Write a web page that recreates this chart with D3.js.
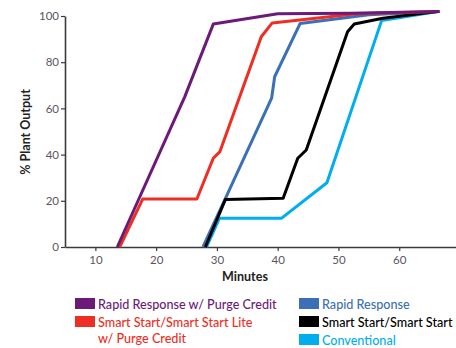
<!DOCTYPE html>
<html><head><meta charset="utf-8">
<script src="https://cdn.jsdelivr.net/npm/d3@7"></script>
<style>body{margin:0;background:#fff;}svg{display:block;}</style>
</head><body>
<script>
const seriesNames = ["Conventional","Rapid Response","Smart Start/Smart Start","Smart Start/Smart Start Lite w/ Purge Credit","Rapid Response w/ Purge Credit"];
const seriesColors = ["#00aeef","#3b6fb6","#000000","#ee2e24","#6b1a78"];
const conventional = [[28.3,0],[30.4,12.4],[40.6,12.4],[48.1,27.8],[57.1,98],[66.6,102]];
const rapidResponse = [[27.7,0],[31.8,23.3],[39.0,64.4],[39.5,73.7],[43.7,96.8],[55,100.5],[66.6,102]];
const smartStart = [[28.1,0],[31.4,20.6],[40.9,21.1],[43.3,38.4],[44.7,42],[51.5,93.2],[52.6,96.5],[57.3,99],[66.6,102]];
const smartStartPurge = [[14.0,0],[17.8,20.8],[26.7,20.8],[29.4,38.4],[30.5,41.3],[37.3,91],[39.1,97],[53,101],[66.6,102]];
const rapidPurge = [[13.6,0],[24.7,65],[29.4,96.5],[40,101],[52,101.2],[66.6,102]];
const xTicks = [10,20,30,40,50,60];
const yTicks = [0,20,40,60,80,100];

const W=456,H=348;
const svg=d3.select("body").append("svg").attr("width",W).attr("height",H);
const x=d3.scaleLinear().domain([5,70]).range([65,460]);
const y=d3.scaleLinear().domain([0,100]).range([247,16]);
const font="Lato, 'Open Sans', sans-serif";

const gx=svg.append("g").attr("transform","translate(0,247)")
  .call(d3.axisBottom(x).tickValues(xTicks).tickSize(4).tickSizeOuter(0));
const gy=svg.append("g").attr("transform","translate(65,0)")
  .call(d3.axisLeft(y).tickValues(yTicks).tickSize(4).tickSizeOuter(0));
[gx,gy].forEach(g=>{
  g.select(".domain").attr("stroke","#3a3a3a").attr("stroke-width",1.6);
  g.selectAll(".tick line").attr("stroke","#3a3a3a").attr("stroke-width",1.2);
  g.selectAll(".tick text").attr("fill","#5a5560").attr("font-family",font).attr("font-size",11.5);
});
gx.selectAll(".tick text").attr("dy","0.9em");
gy.selectAll(".tick text").attr("x",-6);

svg.append("text").attr("transform","translate(30,132) rotate(-90)").attr("text-anchor","middle")
  .attr("font-family",font).attr("font-weight","bold").attr("font-size",12.5).attr("fill","#222").text("% Plant Output");
svg.append("text").attr("x",245).attr("y",281).attr("text-anchor","middle")
  .attr("font-family",font).attr("font-weight","bold").attr("font-size",12.5).attr("fill","#222").text("Minutes");

const data=[conventional,rapidResponse,smartStart,smartStartPurge,rapidPurge];
const line=d3.line().x(d=>x(d[0])).y(d=>y(d[1]));
data.forEach((d,i)=>{
  svg.append("path").attr("d",line(d)).attr("fill","none").attr("stroke",seriesColors[i])
    .attr("stroke-width",3).attr("stroke-linejoin","round");
});

// legend
const legendItems=[
  {i:4,x:75,y:298,lines:["Rapid Response w/ Purge Credit"]},
  {i:3,x:75,y:316,lines:["Smart Start/Smart Start Lite","w/ Purge Credit"]},
  {i:1,x:299,y:298,lines:["Rapid Response"]},
  {i:2,x:299,y:316,lines:["Smart Start/Smart Start"]},
  {i:0,x:299,y:334,lines:["Conventional"]}
];
legendItems.forEach(it=>{
  svg.append("rect").attr("x",it.x).attr("y",it.y).attr("width",20).attr("height",11).attr("fill",seriesColors[it.i]);
  it.lines.forEach((t,k)=>{
    svg.append("text").attr("x",it.x+23).attr("y",it.y+11+k*16).attr("font-family",font).attr("font-size",12.6)
      .attr("font-weight",500).attr("fill",seriesColors[it.i]).text(t);
  });
});
</script>
</body></html>
